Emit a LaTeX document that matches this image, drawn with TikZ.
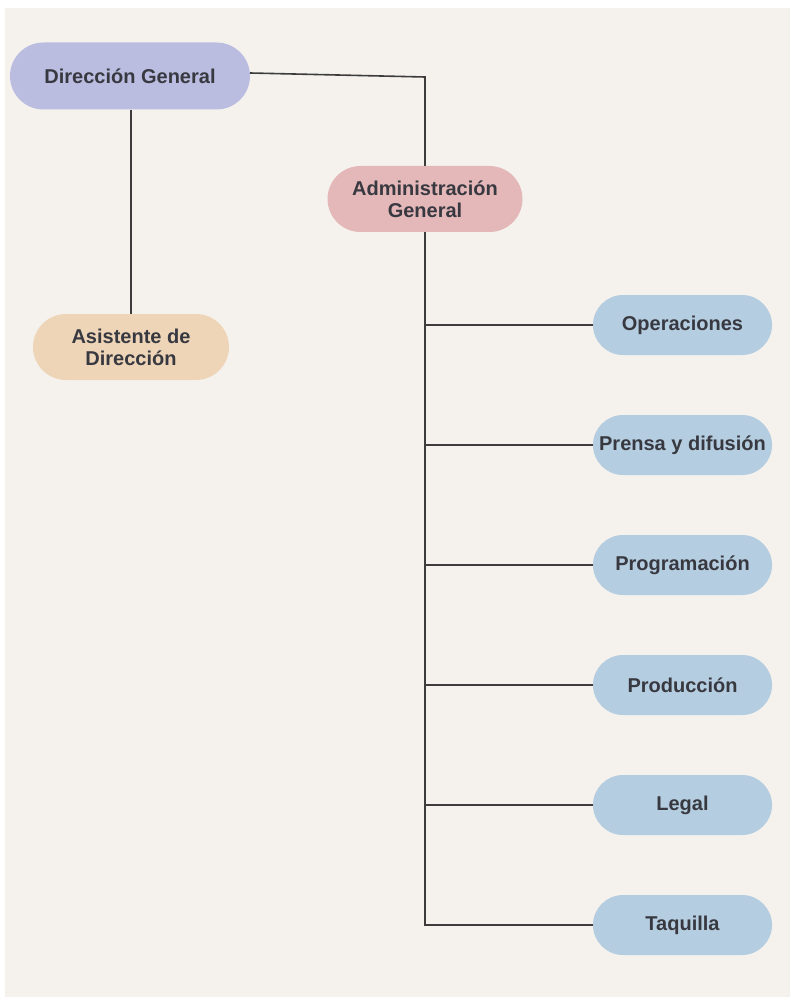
\documentclass[tikz,border=0pt]{standalone}
\usepackage{fontspec}
\setmainfont{Liberation Sans}
\usetikzlibrary{shapes.misc}
\definecolor{bgc}{HTML}{F5F2ED}
\definecolor{purplec}{HTML}{BABCE0}
\definecolor{pinkc}{HTML}{E4B7B9}
\definecolor{peachc}{HTML}{EED5B8}
\definecolor{bluec}{HTML}{B5CDE0}
\definecolor{txtc}{HTML}{383940}
\definecolor{linec}{HTML}{3C3C3C}
\tikzset{
  box/.style={rounded rectangle, inner sep=0pt, align=center, text=txtc,
    font=\bfseries\fontsize{20}{22}\selectfont},
  topbox/.style={box, minimum width=240pt, minimum height=67pt, fill=purplec},
  admbox/.style={box, minimum width=195pt, minimum height=66pt, fill=pinkc},
  asbox/.style={box, minimum width=196pt, minimum height=66pt, fill=peachc},
  deptbox/.style={box, minimum width=179pt, minimum height=60pt, fill=bluec},
  thinconn/.style={draw=linec, line width=1.6pt},
  thickconn/.style={draw=linec, line width=2.8pt},
}
\begin{document}
\begin{tikzpicture}[x=1pt,y=-1pt]
\useasboundingbox (0,0) rectangle (790,1000);
\fill[bgc] (5,8) rectangle (790,997);

\node[topbox] (dg) at (130,76) {Dirección General};
\node[admbox] (adm) at (425,199) {Administración\\General};
\node[asbox] (as) at (131,347) {Asistente de\\Dirección};

\node[deptbox] (op) at (682.5,325) {Operaciones};
\node[deptbox] (pr) at (682.5,445) {Prensa y difusión};
\node[deptbox] (pg) at (682.5,565) {Programación};
\node[deptbox] (pd) at (682.5,685) {Producción};
\node[deptbox] (lg) at (682.5,805) {Legal};
\node[deptbox] (tq) at (682.5,925) {Taquilla};

\coordinate (c0) at (250,73);
\coordinate (c1) at (425,77);
\draw[thinconn] (c0) -- (c1) -- (adm.north);
\draw[thickconn] (dg.south -| as.north) -- (as.north);

\draw[thickconn, line join=miter] (adm.south) -- (adm.south |- tq.west) -- (tq.west);
\foreach \d in {op,pr,pg,pd,lg}{
  \draw[thickconn] (adm.south |- \d.west) -- (\d.west);
}
\end{tikzpicture}
\end{document}
